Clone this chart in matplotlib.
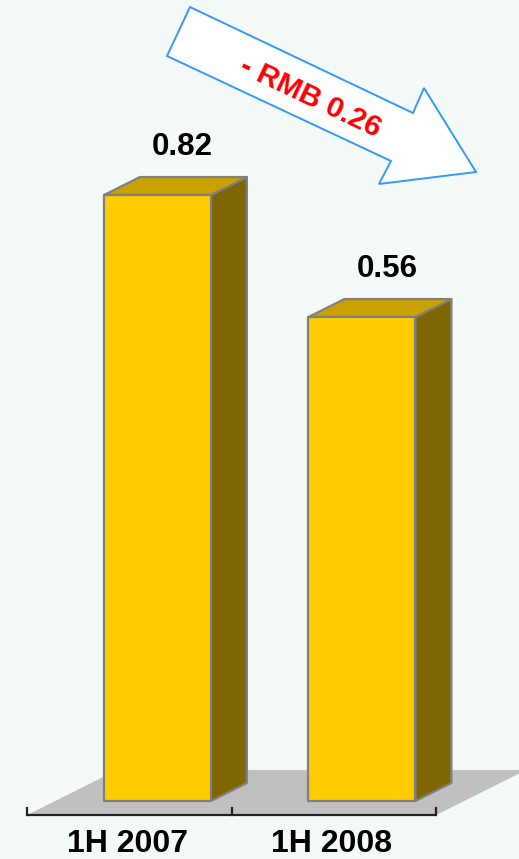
import matplotlib
matplotlib.use("Agg")
import matplotlib.pyplot as plt
import matplotlib.transforms as mtransforms
from matplotlib.patches import Polygon

# data
periods = ["1H 2007", "1H 2008"]
values = [0.82, 0.56]
change_label = "- RMB 0.26"

# layout constants
W, H = 519, 859
BASE = -0.4715          # value at the floor line
DEPTH_DX = 0.44         # full floor depth, in category units
DEPTH_DY = 0.0959       # full floor depth, in value units
Z_FRONT, Z_BACK = 0.311, 0.711
HALF_W = 0.2616

FRONT = "#ffcc00"
TOP = "#c9a200"
SIDE = "#806600"
EDGE = "#808080"
BG = "#f4faf8"

plt.rcParams["font.family"] = ["Liberation Sans", "DejaVu Sans"]

fig = plt.figure(figsize=(W / 100, H / 100), dpi=100, facecolor=BG)
ax = fig.add_axes([0, 0, 1, 1])
ax.set_facecolor(BG)
ax.set_xlim(-0.633, 1.905)
ax.set_ylim(-0.5653, 1.2655)
ax.axis("off")

# pixel coordinates (origin top-left) for the arrow
pix = mtransforms.Affine2D().scale(1 / W, -1 / H).translate(0, 1) + fig.transFigure


def off(x, y, z):
    return (x + DEPTH_DX * z, y + DEPTH_DY * z)


# floor
n = len(periods)
x0, x1 = -0.5, n - 0.5
floor = [off(x0, BASE, 0), off(x1, BASE, 0), off(x1, BASE, 1), off(x0, BASE, 1)]
ax.add_patch(Polygon(floor, closed=True, facecolor="#c0c0c0", edgecolor="none", zorder=1))

# bars
for i, v in enumerate(values):
    l, r = i - HALF_W, i + HALF_W
    front = [off(l, BASE, Z_FRONT), off(r, BASE, Z_FRONT), off(r, v, Z_FRONT), off(l, v, Z_FRONT)]
    side = [off(r, BASE, Z_FRONT), off(r, BASE, Z_BACK), off(r, v, Z_BACK), off(r, v, Z_FRONT)]
    top = [off(l, v, Z_FRONT), off(r, v, Z_FRONT), off(r, v, Z_BACK), off(l, v, Z_BACK)]
    for pts, fc in [(side, SIDE), (top, TOP), (front, FRONT)]:
        ax.add_patch(Polygon(pts, closed=True, facecolor=fc, edgecolor=EDGE,
                             linewidth=1.6, joinstyle="round", zorder=3))
    ax.text(i + 0.26, v + 0.133, f"{v:.2f}", ha="center", va="center",
            fontsize=22.5, fontweight="bold", color="black", zorder=5)
    ax.text(i - 0.01, BASE - 0.062, periods[i], ha="center", va="center",
            fontsize=23, fontweight="bold", color="black", zorder=5)

# category axis with tick marks
tick_h = 7 / 469.2
ax.plot([x0, x1], [BASE, BASE], color="#222222", lw=1.6, zorder=4,
        solid_capstyle="butt")
for t in range(n + 1):
    xt = x0 + t
    ax.plot([xt, xt], [BASE, BASE + tick_h], color="#222222", lw=1.6, zorder=4)

# arrow showing the drop
arrow_pts = [(190, 7), (413, 113), (424, 88), (476, 172), (379, 184), (391, 161), (167, 56)]
ax.add_patch(Polygon(arrow_pts, closed=True, facecolor="white", edgecolor="#3399ff",
                     linewidth=1.4, transform=pix, zorder=6))
ax.text(310, 98, change_label, transform=pix, rotation=-25.4, rotation_mode="anchor",
        ha="center", va="center", fontsize=21.5, fontweight="bold", color="#ff0000", zorder=7)

fig.savefig("out.png", dpi=100, facecolor=BG)
